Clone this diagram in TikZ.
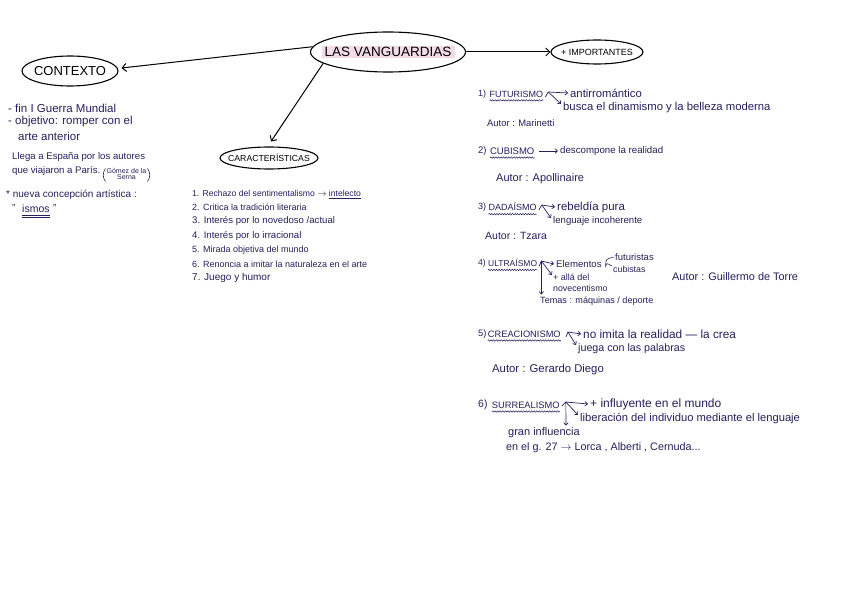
\documentclass[tikz,border=0pt]{standalone}
\usepackage{fontspec}
\setmainfont{Liberation Sans}
\usetikzlibrary{shapes.geometric,decorations.pathmorphing,arrows.meta,calc}
\definecolor{ink}{RGB}{38,32,92}
\definecolor{hl}{RGB}{243,220,229}
\newcommand\hfs[1]{\fontsize{#1}{#1}\selectfont}
\begin{document}
\begin{tikzpicture}[x=1pt,y=-1pt,
  txt/.style={anchor=west,inner sep=0pt,text=ink},
  bub/.style={ellipse,draw=black,line width=1.1pt,inner sep=0pt},
  link/.style={-{Straight Barb[length=4pt,width=8pt]},line width=1pt,black},
  sarr/.style={-{Straight Barb[length=2.5pt,width=4.5pt]},line width=0.7pt,ink,line join=round},
  wavy/.style={decorate,decoration={snake,amplitude=0.7pt,segment length=2.6pt},line width=0.5pt,ink}]
\useasboundingbox (0,0) rectangle (848,599);
\fill[white] (0,0) rectangle (848,599);

% ---------- bubbles ----------
\fill[hl] (322,46) rectangle (455,58);
\node[bub,minimum width=155,minimum height=40] (main) at (388,52) {\makebox[0pt]{\hfs{13.5}LAS VANGUARDIAS}};
\node[bub,minimum width=96,minimum height=30] (ctx) at (70,71) {\makebox[0pt]{\hfs{13}CONTEXTO}};
\node[bub,minimum width=98,minimum height=22] (car) at (269,158) {\makebox[0pt]{\hfs{8.7}CARACTERÍSTICAS}};
\node[bub,minimum width=92,minimum height=24] (imp) at (597,52) {\makebox[0pt]{\hfs{9}+ IMPORTANTES}};

\draw[link] (main.176) -- ($(ctx.east)+(3,-3)$);
\draw[link] (main.190) -- ($(car.north)+(2,-5)$);
\draw[link] (main.east) -- (imp.west);

% ---------- contexto ----------
\node[txt] (c1) at (8,108) {\hfs{11.5}- fin I Guerra Mundial};
\node[txt] (c2) at (8,122) {\hfs{11.5}- objetivo: romper con el};
\node[txt] (c3) at (18,136) {\hfs{11.5}arte anterior};
\node[txt] (c4) at (12,157) {\hfs{9.6}Llega a España por los autores};
\node[txt] (c5) at (12,171) {\hfs{9.6}que viajaron a París.};
\node[txt,inner xsep=4pt] (gom) at ($(c5.east)+(2,4)$) {\hfs{7}\begin{tabular}{@{}c@{}}Gómez de la\\[-1.5pt]Serna\end{tabular}};
\draw[ink,line width=0.6pt] ($(gom.north west)+(3,0)$) to[bend right=35] ($(gom.south west)+(3,0)$);
\draw[ink,line width=0.6pt] ($(gom.north east)+(-3,0)$) to[bend left=35] ($(gom.south east)+(-3,0)$);
\node[txt] (c7) at (6,195) {\hfs{10}* nueva concepción artística :};
\node[txt] (q1) at (12,208) {\hfs{10}"};
\node[txt] (ism) at (22,209) {\hfs{10.5}ismos};
\node[txt] (q2) at ($(ism.east)+(3,-1)$) {\hfs{10}"};
\draw[ink,line width=0.8pt] ($(ism.south west)+(0,2.5)$) -- ($(ism.south east)+(0,2.5)$);
\draw[ink,line width=0.8pt] ($(ism.south west)+(0,4.5)$) -- ($(ism.south east)+(0,4.5)$);

% ---------- caracteristicas ----------
\node[txt] (k1) at (192,193) {\hfs{8.6}1. Rechazo del sentimentalismo $\rightarrow$};
\node[txt] (kint) at ($(k1.east)+(2,0)$) {\hfs{8.6}intelecto};
\draw[ink,line width=0.8pt] ($(kint.south west)+(0,2)$) -- ($(kint.south east)+(0,2)$);
\node[txt] (k2) at (192,207) {\hfs{9}2. Critica la tradición literaria};
\node[txt] (k3) at (192,221) {\hfs{9.6}3. Interés por lo novedoso /actual};
\node[txt] (k4) at (192,236) {\hfs{9.6}4. Interés por lo irracional};
\node[txt] (k5) at (192,250) {\hfs{9}5. Mirada objetiva del mundo};
\node[txt] (k6) at (192,264) {\hfs{9}6. Renoncia a imitar la naturaleza en el arte};
\node[txt] (k7) at (192,278) {\hfs{10}7. Juego y humor};

% ---------- 1) futurismo ----------
\node[txt] (n1) at (478,94) {\hfs{9}1)};
\node[txt] (fut) at ($(n1.east)+(3,0)$) {\hfs{9}FUTURISMO};
\draw[wavy] ($(fut.south west)+(0,3)$) -- ($(fut.south east)+(0,3)$);
\node[txt] (anti) at (570,93) {\hfs{11.3}antirromántico};
\node[txt] (busca) at (563,108) {\hfs{11.3}busca el dinamismo y la belleza moderna};
\coordinate (f0) at ($(fut.east)+(5,-2)$);
\draw[sarr] ($(fut.east)+(2,3)$) -- (f0) -- ($(anti.west)+(-2,0)$);
\draw[sarr] (f0) -- ($(busca.west)+(-2,-4)$);
\node[txt] (a1) at (487,123) {\hfs{9.4}Autor : Marinetti};

% ---------- 2) cubismo ----------
\node[txt] (n2) at (478,151) {\hfs{9.5}2)};
\node[txt] (cub) at ($(n2.east)+(3,0)$) {\hfs{9.5}CUBISMO};
\draw[wavy] ($(cub.south west)+(0,3)$) -- ($(cub.south east)+(0,3)$);
\node[txt] (desc) at (560,151) {\hfs{9.7}descompone la realidad};
\draw[sarr] ($(cub.east)+(4,0)$) -- ($(desc.west)+(-2,0)$);
\node[txt] (a2) at (496,179) {\hfs{11}Autor : Apollinaire};

% ---------- 3) dadaismo ----------
\node[txt] (n3) at (478,207) {\hfs{9}3)};
\node[txt] (dad) at ($(n3.east)+(2,0)$) {\hfs{9}DADAÍSMO};
\draw[wavy] ($(dad.south west)+(0,3)$) -- ($(dad.south east)+(0,3)$);
\node[txt] (reb) at (557,207) {\hfs{11.5}rebeldía pura};
\node[txt] (leng) at (553,221) {\hfs{9.6}lenguaje incoherente};
\coordinate (d0) at ($(dad.east)+(5,-2)$);
\draw[sarr] ($(dad.east)+(2,3)$) -- (d0) -- ($(reb.west)+(-2,0)$);
\draw[sarr] (d0) -- ($(leng.west)+(-2,-3)$);
\node[txt] (a3) at (485,236) {\hfs{10.5}Autor : Tzara};

% ---------- 4) ultraismo ----------
\node[txt] (n4) at (478,263) {\hfs{8.5}4)};
\node[txt] (ult) at ($(n4.east)+(2,0)$) {\hfs{8.5}ULTRAÍSMO};
\draw[wavy] ($(ult.south west)+(0,3)$) -- ($(ult.south east)+(0,3)$);
\node[txt] (elem) at (556,264) {\hfs{9.6}Elementos};
\node[txt] (futu) at (615,257) {\hfs{9.5}futuristas};
\node[txt] (cubi) at (613,269) {\hfs{8.8}cubistas};
\draw[ink,line width=0.6pt] ($(futu.west)+(-1,0)$) .. controls ($(elem.east)+(4,-5)$) .. ($(elem.east)+(4,2)$) .. controls ($(elem.east)+(5,-1)$) .. ($(cubi.west)+(-1,-3)$);
\node[txt] (alla) at (553,277) {\hfs{9}+ allá del};
\node[txt] (nove) at (553,288) {\hfs{8.8}novecentismo};
\node[txt] (temas) at (540,301) {\hfs{9.1}Temas : máquinas / deporte};
\coordinate (u0) at ($(ult.east)+(4,-2)$);
\draw[sarr] ($(ult.east)+(2,3)$) -- (u0) -- ($(elem.west)+(-2,0)$);
\draw[sarr] (u0) -- ($(alla.west)+(-1,-2)$);
\draw[sarr] (u0) -- ($(u0 |- temas.north)+(0,-2)$);
\node[txt] (a4) at (672,277) {\hfs{10.9}Autor : Guillermo de Torre};

% ---------- 5) creacionismo ----------
\node[txt] (n5) at (478,334) {\hfs{9.3}5)};
\node[txt] (cre) at ($(n5.east)+(1,0)$) {\hfs{9.3}CREACIONISMO};
\draw[wavy] ($(cre.south west)+(0,3)$) -- ($(cre.south east)+(0,3)$);
\node[txt] (noim) at (583,334) {\hfs{11.8}no imita la realidad --- la crea};
\node[txt] (jue) at (578,349) {\hfs{10.7}juega con las palabras};
\coordinate (r0) at ($(cre.east)+(7,-2)$);
\draw[sarr] ($(cre.east)+(5,3)$) -- (r0) -- ($(noim.west)+(-2,0)$);
\draw[sarr] (r0) -- ($(jue.west)+(-2,-4)$);
\node[txt] (a5) at (492,370) {\hfs{11.3}Autor : Gerardo Diego};

% ---------- 6) surrealismo ----------
\node[txt] (n6) at (478,405) {\hfs{10.5}6)};
\node[txt] (sur) at ($(n6.east)+(4,0)$) {\hfs{9.3}SURREALISMO};
\draw[wavy] ($(sur.south west)+(0,3)$) -- ($(sur.south east)+(0,3)$);
\node[txt] (infl) at (590,404) {\hfs{12}+ influyente en el mundo};
\node[txt] (lib) at (580,419) {\hfs{11.2}liberación del individuo mediante el lenguaje};
\node[txt] (gran) at (508,433) {\hfs{11}gran influencia};
\node[txt] (g27) at (506,448) {\hfs{10.8}en el g. 27 $\rightarrow$ Lorca , Alberti , Cernuda...};
\coordinate (s0) at ($(sur.east)+(6,-3)$);
\draw[sarr] ($(sur.east)+(2,1)$) -- (s0) -- ($(infl.west)+(-2,0)$);
\draw[sarr] (s0) -- ($(lib.west)+(-2,-4)$);
\draw[sarr] (s0) -- ($(gran.north east)+(-14,-2)$);
\end{tikzpicture}
\end{document}
